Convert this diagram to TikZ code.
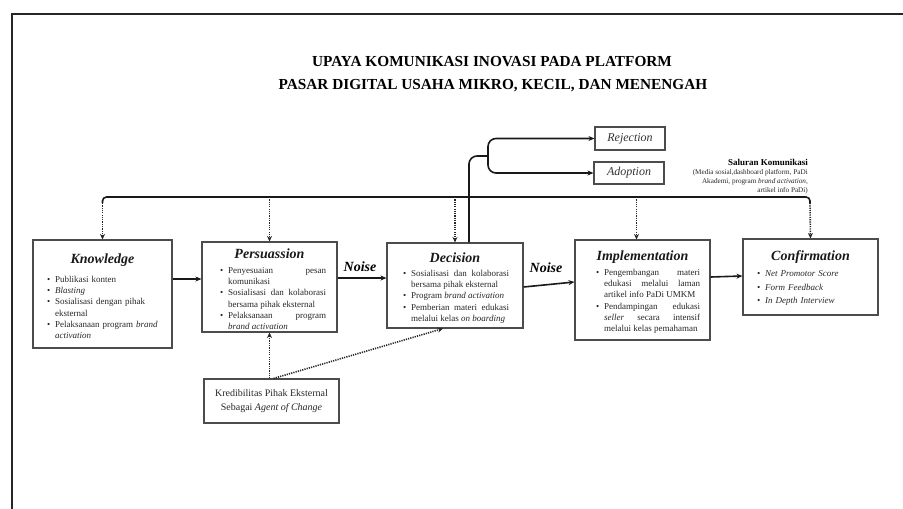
\documentclass[tikz,border=0pt]{standalone}
\usepackage{fontspec}
\setmainfont{Liberation Serif}
\usetikzlibrary{arrows.meta}

% bullet item with hanging indent
\newcommand{\itm}{\par\hangindent=8pt\hangafter=1\noindent\makebox[8pt][l]{\textbullet}\ignorespaces}
% no hyphenation inside the lists
\newcommand{\nohyph}{\hyphenpenalty=10000 \exhyphenpenalty=10000 }

\tikzset{
  box/.style={draw=black!70, line width=1.1pt, inner sep=0pt},
  ttl/.style={anchor=base, inner sep=0pt, text=black!90,
    font=\fontsize{14}{16}\selectfont\bfseries\itshape},
  lst/.style={anchor=base west, inner sep=0pt, text=black!85,
    font=\fontsize{9}{11.2}\selectfont},
  arr/.style={-{Stealth[length=6pt,width=5pt]}, line width=1.6pt, draw=black!90},
  solidline/.style={line width=1.6pt, draw=black!90},
  dotarrow/.style={-{Stealth[length=5.5pt,width=5pt]}, line width=1.6pt,
    dash pattern=on 1.2pt off 1.1pt, draw=black!85},
  noise/.style={anchor=base, inner sep=0pt, font=\fontsize{14}{16}\selectfont\bfseries\itshape},
  note/.style={anchor=base east, inner sep=0pt, font=\fontsize{7.2}{9}\selectfont, text=black!85}
}

\begin{document}
\begin{tikzpicture}[x=1pt, y=-1pt]
\useasboundingbox (0,0) rectangle (903,509);

% outer frame
\draw[line width=2.2pt, draw=black!85] (12,509) -- (12,14) -- (903,14);

% heading
\node[anchor=base, inner sep=0pt, font=\fontsize{15.3}{18}\selectfont\bfseries] (head1) at (492,66)
  {UPAYA KOMUNIKASI INOVASI PADA PLATFORM};
\node[anchor=base, inner sep=0pt, font=\fontsize{15.3}{18}\selectfont\bfseries] (head2) at (493,89)
  {PASAR DIGITAL USAHA MIKRO, KECIL, DAN MENENGAH};

% stage boxes
\node[box, minimum width=139pt, minimum height=108pt] (know) at (102.5,294) {};
\node[box, minimum width=135pt, minimum height=90pt]  (pers) at (269.5,287) {};
\node[box, minimum width=136pt, minimum height=85pt]  (dec)  at (455,285.5) {};
\node[box, minimum width=135pt, minimum height=100pt] (impl) at (642.5,290) {};
\node[box, minimum width=135pt, minimum height=76pt]  (conf) at (810.5,277) {};

% outcome boxes
\node[box, minimum width=70pt, minimum height=23pt, font=\fontsize{12}{14}\selectfont\itshape, text=black!80] (rej) at (630,138.5) {Rejection};
\node[box, minimum width=70pt, minimum height=22pt, font=\fontsize{12}{14}\selectfont\itshape, text=black!80] (adp) at (629,173) {Adoption};

% change agent box
\node[box, minimum width=135pt, minimum height=44pt, align=center,
  font=\fontsize{10}{13.5}\selectfont, text=black!85] (kred) at (271.5,401)
  {Kredibilitas Pihak Eksternal\\Sebagai \textit{Agent of Change}};

% stage titles
\node[ttl] (knowT) at ([yshift=-24pt]know.north) {Knowledge};
\node[ttl] (persT) at ([yshift=-17pt]pers.north) {Persuassion};
\node[ttl] (decT)  at ([yshift=-20pt]dec.north)  {Decision};
\node[ttl] (implT) at ([yshift=-21pt]impl.north) {Implementation};
\node[ttl] (confT) at ([yshift=-22pt]conf.north) {Confirmation};

% stage contents
\node[lst, text width=111pt, align=left] (knowL) at (47,271.3) {\nohyph
\itm Publikasi konten
\itm \textit{Blasting}
\itm Sosialisasi dengan pihak\newline eksternal
\itm Pelaksanaan program \textit{brand}\newline \textit{activation}\par};

\node[lst, text width=106pt, align=justify] (persL) at (220,262.3) {\nohyph
\itm Penyesuaian pesan\linebreak komunikasi
\itm Sosialisasi dan kolaborasi\linebreak bersama pihak eksternal
\itm Pelaksanaan program\linebreak \textit{brand activation}\par};

\node[lst, text width=106pt, align=justify] (decL) at (403,265.3) {\nohyph
\itm Sosialisasi dan kolaborasi\linebreak bersama pihak eksternal
\itm Program \textit{brand activation}
\itm Pemberian materi edukasi\linebreak melalui kelas \textit{on boarding}\par};

\node[lst, text width=104pt, align=justify] (implL) at (596,264.3) {\nohyph
\itm Pengembangan materi\linebreak edukasi melalui laman\linebreak artikel info PaDi UMKM
\itm Pendampingan edukasi\linebreak \textit{seller} secara intensif\linebreak melalui kelas pemahaman\par};

\node[lst, text width=110pt, align=left, font=\fontsize{9}{13.5}\selectfont\itshape] (confL) at (757,263) {\nohyph
\itm Net Promotor Score
\itm Form Feedback
\itm In Depth Interview\par};

% noise labels
\node[noise] (noise1) at (360,271) {Noise};
\node[noise] (noise2) at (546,272) {Noise};

% channel note
\node[note, font=\fontsize{9}{10}\selectfont\bfseries, text=black] (sal) at (808,165) {Saluran Komunikasi};
\node[note] (sal1) at (808,174) {(Media sosial,dashboard platform, PaDi};
\node[note] (sal2) at (808,183) {Akademi, program \textit{brand activation},};
\node[note] (sal3) at (808,192) {artikel info PaDi)};

% main flow
\draw[arr] ([yshift=15pt]know.east) -- ([yshift=8pt]pers.west);
\draw[arr] ([yshift=9pt]pers.east) -- ([yshift=7.5pt]dec.west);
\draw[arr] ([yshift=-1.5pt]dec.east) -- ([yshift=8pt]impl.west);
\draw[arr] ([yshift=13pt]impl.east) -- ([yshift=1pt]conf.west);

% communication channel bus
\coordinate (busL) at (102.5,197);
\coordinate (busR) at (810,197);
\draw[solidline, rounded corners=4pt] ([yshift=-6pt]busL) -- (busL) -- (busR) -- ([yshift=-6pt]busR);
\draw[dotarrow] ([yshift=-6pt]busL) -- (know.north);
\draw[dotarrow] (pers.north |- busL) -- (pers.north);
\draw[dotarrow] (dec.north |- busL) -- (dec.north);
\draw[dotarrow] ([xshift=-6pt]impl.north |- busL) -- ([xshift=-6pt]impl.north);
\draw[dotarrow] ([yshift=-6pt]busR) -- (conf.north);

% decision outcome
\coordinate (junc) at (488,156);
\draw[solidline, rounded corners=8pt] ([xshift=14pt]dec.north) |- (junc);
\draw[arr, rounded corners=8pt] (junc) |- (rej.west);
\draw[arr, rounded corners=8pt] (junc) |- (adp.west);

% change agent influence
\draw[dotarrow] (pers.south |- kred.north) -- (pers.south);
\draw[dotarrow] ([xshift=2pt]kred.north) -- ([xshift=-12pt]dec.south);
\end{tikzpicture}
\end{document}
